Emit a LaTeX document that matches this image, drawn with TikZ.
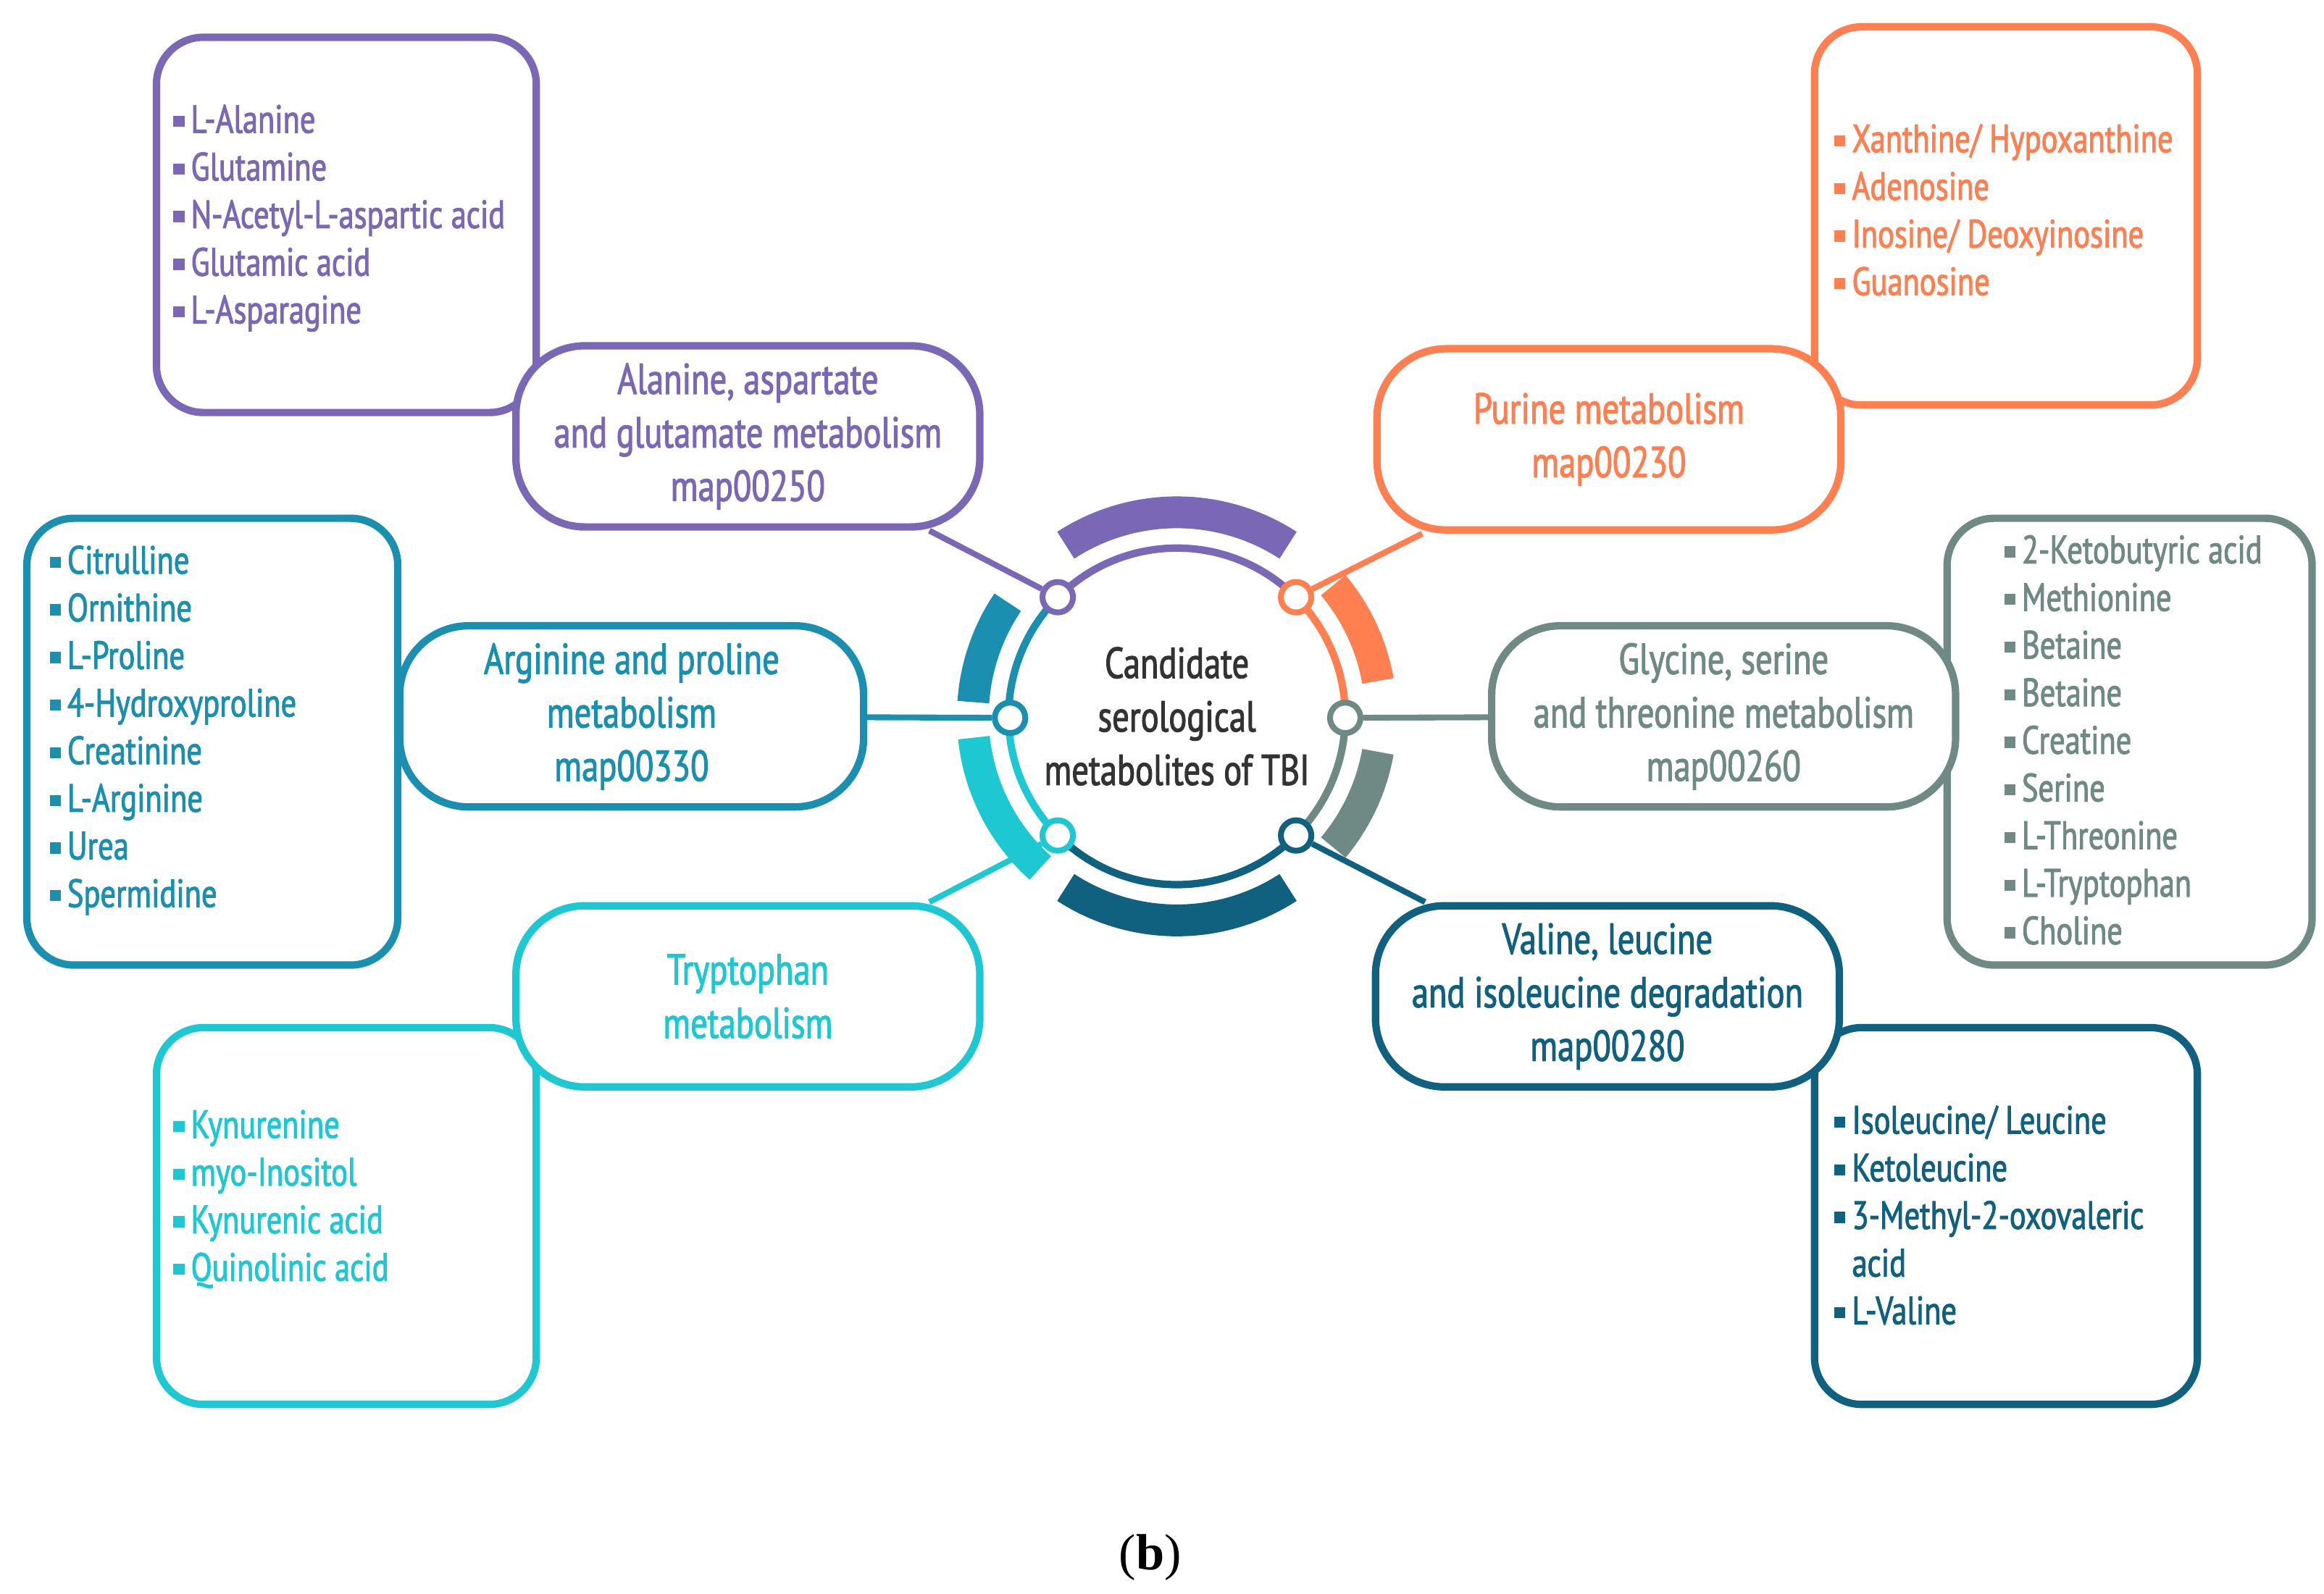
\documentclass[tikz,border=0pt]{standalone}
\usetikzlibrary{calc}
\usepackage{fontspec}
\setmainfont{PT Sans}[FakeStretch=0.78,FakeBold=1.8]
\newfontfamily\capfont{Liberation Serif}
\definecolor{cpur}{HTML}{7A68B6}
\definecolor{cora}{HTML}{FF7F50}
\definecolor{cblu}{HTML}{1A8FB0}
\definecolor{cgry}{HTML}{6F8A85}
\definecolor{ccya}{HTML}{1EC8D2}
\definecolor{cdbl}{HTML}{10607F}
\newcommand{\bul}{\rule[0.15em]{0.28em}{0.28em}\,}
\begin{document}
\begin{tikzpicture}[x=0.02056cm,y=-0.02056cm,
  pill/.style={draw,line width=2.9pt,rounded corners=0.95cm,minimum width=6.4cm,minimum height=2.5cm,fill=white,align=center,font=\fontsize{17}{21}\selectfont},
  lbox/.style={line width=2.9pt,rounded corners=0.65cm},
  items/.style={anchor=north west,align=left,font=\fontsize{15.5}{18.7}\selectfont,inner sep=0pt},
  conn/.style={line width=2.3pt},
  dot/.style={circle,draw,line width=2.3pt,fill=white,minimum size=0.42cm,inner sep=0pt}]
\useasboundingbox (0,0) rectangle (1560,1070);
\coordinate (c) at (790,481);
\begin{scope}[shift={(c)},x=0.02056cm,y=0.02056cm]
% outer thick arcs
\foreach \a/\b/\col in {57/123/cpur,10/40/cora,-10/-40/cgry,237/303/cdbl,186/228/ccya,146/176/cblu}
  \draw[\col,line width=12.5pt] (\a:137) arc[start angle=\a,end angle=\b,radius=137*0.02056cm];
% thin ring
\foreach \a/\b/\col in {45/135/cpur,135/180/cblu,180/225/ccya,225/315/cdbl,315/360/cgry,0/45/cora}
  \draw[\col,line width=2.9pt] (\a:113) arc[start angle=\a,end angle=\b,radius=113*0.02056cm];
\end{scope}
\node[align=center,text=black!80,font=\fontsize{17}{21}\selectfont] (center) at (c) {Candidate\\serological\\metabolites of TBI};
% list boxes
\draw[lbox,cpur] (105,25) rectangle (360,277);
\draw[lbox,cora] (1218,18) rectangle (1475,272);
\draw[lbox,cblu] (18,348) rectangle (267,648);
\draw[lbox,cgry] (1307,348) rectangle (1552,648);
\draw[lbox,ccya] (105,690) rectangle (360,943);
\draw[lbox,cdbl] (1218,690) rectangle (1475,943);
% pills
\node[pill,draw=cpur,text=cpur] (p1) at (502,293) {Alanine, aspartate\\and glutamate metabolism\\map00250};
\node[pill,draw=cora,text=cora] (p2) at (1080,295) {Purine metabolism\\map00230};
\node[pill,draw=cblu,text=cblu] (p3) at (424,481) {Arginine and proline\\metabolism\\map00330};
\node[pill,draw=cgry,text=cgry] (p4) at (1157,481) {Glycine, serine\\and threonine metabolism\\map00260};
\node[pill,draw=ccya,text=ccya] (p5) at (502,669) {Tryptophan\\metabolism};
\node[pill,draw=cdbl,text=cdbl] (p6) at (1079,669) {Valine, leucine\\and isoleucine degradation\\map00280};
% dots
\node[dot,draw=cpur] (d1) at (710,401) {};
\node[dot,draw=cora] (d2) at (870,401) {};
\node[dot,draw=cblu] (d3) at (678,482) {};
\node[dot,draw=cgry] (d4) at (903,482) {};
\node[dot,draw=ccya] (d5) at (710,561) {};
\node[dot,draw=cdbl] (d6) at (870,561) {};
\draw[conn,cpur] (d1) -- (p1);
\draw[conn,cora] (d2) -- (p2);
\draw[conn,cblu] (d3) -- (p3);
\draw[conn,cgry] (d4) -- (p4);
\draw[conn,ccya] (d5) -- (p5);
\draw[conn,cdbl] (d6) -- (p6);
\node[items,text=cpur] (l1) at (116,70) {\bul L-Alanine\\\bul Glutamine\\\bul N-Acetyl-L-aspartic acid\\\bul Glutamic acid\\\bul L-Asparagine};
\node[items,text=cora] (l2) at (1231,83) {\bul Xanthine/ Hypoxanthine\\\bul Adenosine\\\bul Inosine/ Deoxyinosine\\\bul Guanosine};
\node[items,text=cblu] (l3) at (33,366) {\bul Citrulline\\\bul Ornithine\\\bul L-Proline\\\bul 4-Hydroxyproline\\\bul Creatinine\\\bul L-Arginine\\\bul Urea\\\bul Spermidine};
\node[items,text=cgry] (l4) at (1345,359) {\bul 2-Ketobutyric acid\\\bul Methionine\\\bul Betaine\\\bul Betaine\\\bul Creatine\\\bul Serine\\\bul L-Threonine\\\bul L-Tryptophan\\\bul Choline};
\node[items,text=ccya] (l5) at (116,745) {\bul Kynurenine\\\bul myo-Inositol\\\bul Kynurenic acid\\\bul Quinolinic acid};
\node[items,text=cdbl] (l6) at (1231,742) {\bul Isoleucine/ Leucine\\\bul Ketoleucine\\\bul 3-Methyl-2-oxovaleric\\\phantom{\bul}acid\\\bul L-Valine};
\node[font=\capfont\fontsize{20}{24}\selectfont] (cap) at (772,1046) {(\textbf{b})};
\end{tikzpicture}
\end{document}
